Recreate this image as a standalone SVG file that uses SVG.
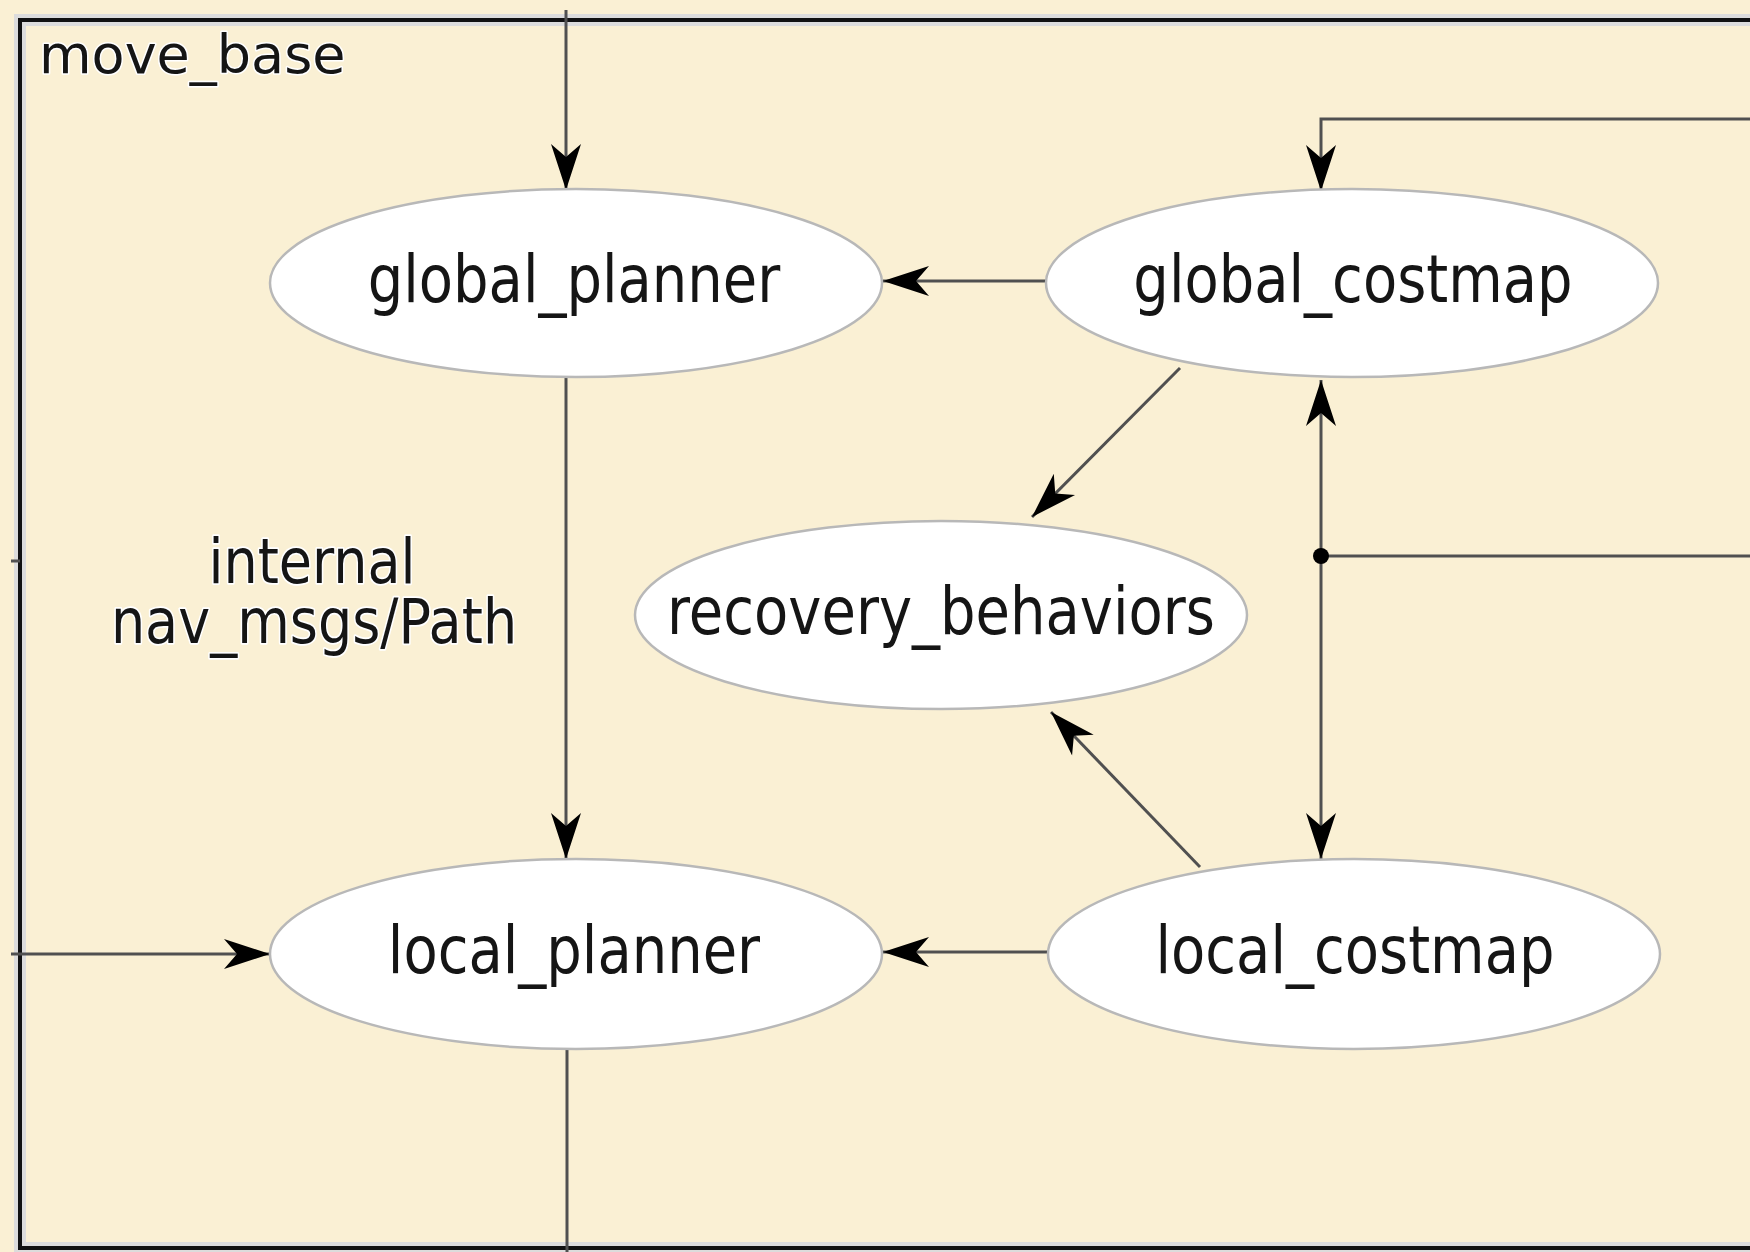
<svg xmlns="http://www.w3.org/2000/svg" width="1750" height="1252" viewBox="0 0 1750 1252">
<style>
.bg{fill:#FAF0D4}
.node ellipse{fill:#ffffff;stroke:#b8b8b8;stroke-width:2.5}
.node text{font-family:"DejaVu Sans",sans-serif;font-size:56px;fill:#151515;text-anchor:middle}
.edge{fill:none;stroke:#505050;stroke-width:3}
.lbl{font-family:"DejaVu Sans",sans-serif;font-size:54px;fill:#151515;stroke:#ffffff;stroke-width:3;paint-order:stroke;stroke-linejoin:round}
</style>
<defs>
<marker id="ah" markerUnits="userSpaceOnUse" markerWidth="50" markerHeight="32" refX="46" refY="16" orient="auto" overflow="visible">
<path d="M46,16 L0,1 L13,16 L0,31 Z" fill="#000"/>
</marker>
</defs>
<rect class="bg" x="0" y="0" width="1750" height="1252"/>
<g id="frame">
<rect x="20" y="20" width="1760" height="1228" fill="none" stroke="#dcdcdc" stroke-width="12"/>
<rect x="20" y="20" width="1760" height="1228" fill="none" stroke="#111" stroke-width="4"/>
<text class="lbl" x="39" y="73" font-size="55">move_base</text>
</g>
<g id="connectors">
<path class="edge" d="M566,10 V190" marker-end="url(#ah)"/>
<path class="edge" d="M1750,119 H1321 V191" marker-end="url(#ah)"/>
<path class="edge" d="M1046,281 H883" marker-end="url(#ah)"/>
<path class="edge" d="M1180,368 L1032,517" marker-end="url(#ah)"/>
<path class="edge" d="M566,377 V859" marker-end="url(#ah)"/>
<path class="edge" d="M1200,867 L1051,712" marker-end="url(#ah)"/>
<path class="edge" d="M1048,952 H883" marker-end="url(#ah)"/>
<path class="edge" d="M1321,556 V380" marker-end="url(#ah)"/>
<path class="edge" d="M1321,556 V859" marker-end="url(#ah)"/>
<path class="edge" d="M1321,556 H1750"/>
<path class="edge" d="M11,954 H270" marker-end="url(#ah)"/>
<path class="edge" d="M567,1049 V1252" stroke="#222"/>
<path class="edge" d="M11,561 H20" stroke="#111"/>
<circle cx="1321" cy="556" r="8" fill="#000"/>
<text class="lbl" transform="translate(312,583) scale(1,1.15)" text-anchor="middle">internal</text>
<text class="lbl" transform="translate(314,643) scale(1,1.15)" text-anchor="middle">nav_msgs/Path</text>
</g>
<g id="global_planner" class="node">
<ellipse cx="576" cy="283" rx="306" ry="94"/>
<text transform="translate(574,302) scale(1,1.18)">global_planner</text>
</g>
<g id="global_costmap" class="node">
<ellipse cx="1352" cy="283" rx="306" ry="94"/>
<text transform="translate(1353,302) scale(1,1.18)">global_costmap</text>
</g>
<g id="recovery_behaviors" class="node">
<ellipse cx="941" cy="615" rx="306" ry="94"/>
<text transform="translate(941,634) scale(1,1.18)">recovery_behaviors</text>
</g>
<g id="local_planner" class="node">
<ellipse cx="576" cy="954" rx="306" ry="95"/>
<text transform="translate(574,973) scale(1,1.18)">local_planner</text>
</g>
<g id="local_costmap" class="node">
<ellipse cx="1354" cy="954" rx="306" ry="95"/>
<text transform="translate(1355,973) scale(1,1.18)">local_costmap</text>
</g>
</svg>
